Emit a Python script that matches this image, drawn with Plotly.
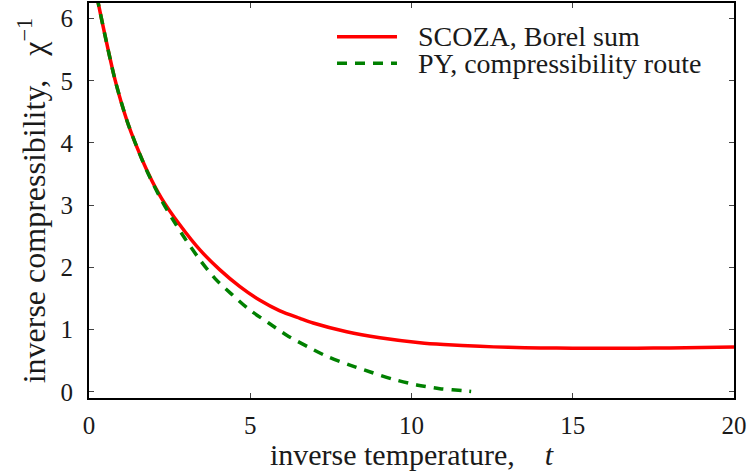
import plotly.graph_objects as go

# SCOZA, Borel sum
t_scoza = [0.25, 0.29, 0.50, 0.81, 1.17, 1.48, 1.84, 2.25, 2.82, 3.44, 4.06, 4.68, 5.30, 5.92,
           6.54, 6.95, 7.99, 9.02, 10.26, 11.0, 12.12, 13.0, 14.0, 15.0, 16.0, 17.0, 18.0, 19.0, 20.0]
chi_scoza = [6.35, 6.24, 5.72, 5.01, 4.37, 3.94, 3.51, 3.11, 2.68, 2.28, 1.96, 1.69, 1.47, 1.30,
             1.18, 1.105, 0.965, 0.87, 0.79, 0.76, 0.73, 0.715, 0.705, 0.70, 0.698, 0.70, 0.705, 0.712, 0.72]

# PY, compressibility route
t_py = [0.25, 0.29, 0.50, 0.81, 1.17, 1.48, 1.84, 2.25, 2.61, 2.98, 3.44, 3.91, 4.42, 4.97,
        5.56, 6.13, 6.80, 7.42, 8.09, 8.77, 9.44, 10.16, 10.88, 11.71, 11.85]
chi_py = [6.35, 6.24, 5.72, 5.01, 4.37, 3.94, 3.50, 3.08, 2.76, 2.46, 2.12, 1.82, 1.57, 1.32,
          1.11, 0.91, 0.72, 0.56, 0.43, 0.31, 0.20, 0.11, 0.05, 0.012, 0.005]

x_ticks = [0, 5, 10, 15, 20]
y_ticks = [0, 1, 2, 3, 4, 5, 6]

names = ["SCOZA, Borel sum", "PY, compressibility route"]
colors = ["#ff0000", "#008000"]
dashes = ["solid", "10px,8px"]

FONT = "Liberation Serif"
TXT = "#1a1a1a"

fig = go.Figure()
fig.add_trace(go.Scatter(x=t_scoza, y=chi_scoza, mode="lines", name=names[0], showlegend=False,
                         line=dict(color=colors[0], width=3.5, dash=dashes[0], shape="spline", smoothing=0.8)))
fig.add_trace(go.Scatter(x=t_py, y=chi_py, mode="lines", name=names[1], showlegend=False,
                         line=dict(color=colors[1], width=3.5, dash=dashes[1], shape="spline", smoothing=0.8)))

axis_common = dict(showgrid=False, zeroline=False, showline=True, linecolor="black", linewidth=2,
                   mirror="allticks", ticks="inside", ticklen=5, tickwidth=1, tickcolor="#444",
                   automargin=False, tickfont=dict(family=FONT, size=25, color=TXT))

fig.update_xaxes(range=[0, 20], tickvals=x_ticks, ticklabelstandoff=4,
                 title=dict(text="inverse temperature,\u00a0\u00a0\u00a0\u00a0<i>t</i>",
                            font=dict(family=FONT, size=30, color=TXT), standoff=5),
                 **axis_common)
fig.update_yaxes(range=[-0.1, 6.25], tickvals=y_ticks, ticklabelstandoff=9,
                 title=dict(text="inverse compressibility,\u00a0\u00a0\u00a0χ<sup>−1</sup>",
                            font=dict(family=FONT, size=32, color=TXT), standoff=5),
                 **axis_common)

# legend drawn as key lines + labels (paper coordinates)
leg_y = [0.9147, 0.8473]
for name, col, dsh, yy in zip(names, colors, dashes, leg_y):
    fig.add_shape(type="line", xref="paper", yref="paper", x0=0.3845, x1=0.4775, y0=yy, y1=yy,
                  line=dict(color=col, width=3.5, dash=dsh))
    fig.add_annotation(xref="paper", yref="paper", x=0.5085, y=yy, xanchor="left", yanchor="middle",
                       text=name, showarrow=False, borderpad=0,
                       font=dict(family=FONT, size=28, color=TXT))

fig.update_layout(
    width=749, height=471,
    margin=dict(l=89, r=15, t=3, b=73),
    paper_bgcolor="white", plot_bgcolor="white",
    font=dict(family=FONT, size=25, color=TXT),
    showlegend=False,
)

fig.write_html("out.html", config={"displayModeBar": False},
               post_script="document.body.style.margin='0';")
